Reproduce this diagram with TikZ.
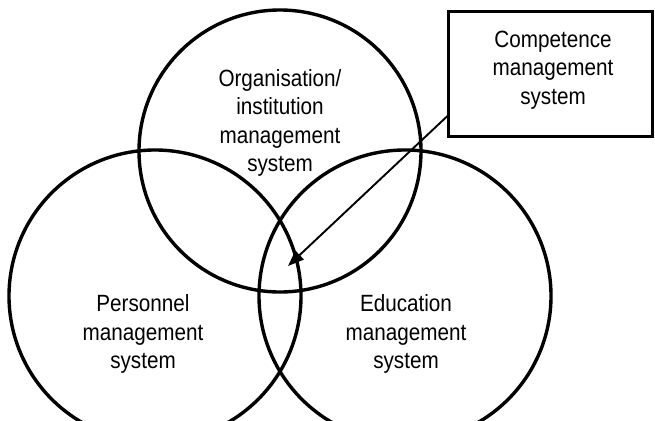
\documentclass[tikz,border=0pt]{standalone}
\usepackage{fontspec}
\setmainfont{Liberation Sans}[FakeStretch=0.88]
\usetikzlibrary{arrows.meta}
\begin{document}
\begin{tikzpicture}[x=1pt,y=-1pt,
  ring/.style={draw=black,line width=3.4pt},
  lbl/.style={align=center,font=\fontsize{23.5}{28.5}\selectfont,inner sep=0pt},
  boxnode/.style={draw=black,line width=3.4pt},
  conn/.style={draw=black,line width=1.9pt,-{Triangle[length=16pt,width=12pt]}}]
\useasboundingbox (0,0) rectangle (655,420);
\begin{scope}
\clip (0,0) rectangle (655,420);
\draw[ring] (280,151) circle (141);
\draw[ring] (155,296) circle (146);
\draw[ring] (405,296) circle (146);
\end{scope}
\node[lbl] (org) at (280,123) {Organisation/\\institution\\management\\system};
\node[lbl] (pers) at (143,334) {Personnel\\management\\system};
\node[lbl] (edu) at (406,334) {Education\\management\\system};
\draw[boxnode] (448.5,11.5) rectangle (652.5,136.5);
\coordinate (boxleft) at (448.5,115);
\node[lbl] (comp) at (553,70) {Competence\\management\\system};
\coordinate (tip) at (288,266);
\draw[conn] (boxleft) -- (tip);
\end{tikzpicture}
\end{document}
